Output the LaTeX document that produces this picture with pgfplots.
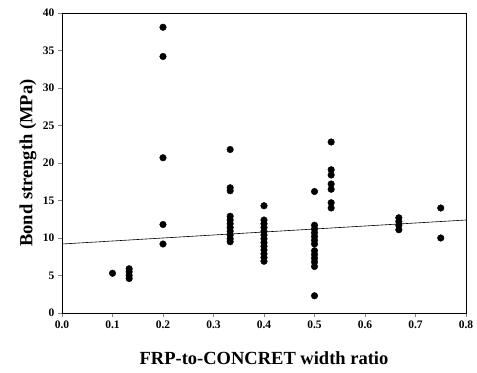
\documentclass[border=0pt]{standalone}
\usepackage{pgfplots}
\pgfplotsset{compat=1.18}
\usepackage{fontspec}
\setmainfont{Liberation Serif}
\begin{document}
\begin{tikzpicture}
\begin{axis}[
  scale only axis,
  width=404pt, height=300pt,
  xmin=0, xmax=0.8, ymin=0, ymax=40,
  xtick={0,0.1,...,0.8},
  ytick={0,5,...,40},
  xticklabel style={/pgf/number format/fixed,/pgf/number format/fixed zerofill,/pgf/number format/precision=1},
  /pgf/number format/assume math mode=true,
  tick label style={font=\bfseries\fontsize{11.5}{12}\selectfont},
  tick align=outside,
  xtick pos=bottom, ytick pos=left,
  major tick length=4pt,
  axis line style={line width=0.8pt},
  xlabel={FRP-to-CONCRET width ratio},
  ylabel={Bond strength (MPa)},
  xlabel style={font=\bfseries\fontsize{18.5}{20}\selectfont, at={(axis description cs:0.5,-0.15)},anchor=center},
  ylabel style={font=\bfseries\fontsize{18.5}{20}\selectfont, at={(axis description cs:-0.084,0.5)},anchor=center},
]
\addplot[only marks, mark=*, mark size=3.3pt, black] coordinates {
(0.1,5.3)
(0.133,5.9)(0.133,5.5)(0.133,5.0)(0.133,4.6)
(0.2,38.1)(0.2,34.2)(0.2,20.7)(0.2,11.8)(0.2,9.2)
(0.333,21.8)(0.333,16.7)(0.333,16.3)(0.333,12.9)(0.333,12.4)(0.333,11.9)(0.333,11.4)(0.333,10.9)(0.333,10.4)(0.333,9.9)(0.333,9.5)
(0.4,14.3)(0.4,12.4)(0.4,11.9)(0.4,11.4)(0.4,10.9)(0.4,10.4)(0.4,9.9)(0.4,9.4)(0.4,8.9)(0.4,8.4)(0.4,7.9)(0.4,7.4)(0.4,6.9)
(0.5,16.2)(0.5,11.7)(0.5,11.2)(0.5,10.7)(0.5,10.2)(0.5,9.7)(0.5,9.2)(0.5,8.3)(0.5,7.8)(0.5,7.3)(0.5,6.8)(0.5,6.2)(0.5,2.3)
(0.533,22.8)(0.533,19.1)(0.533,18.4)(0.533,17.2)(0.533,16.5)(0.533,14.7)(0.533,14.0)
(0.667,12.7)(0.667,12.2)(0.667,11.7)(0.667,11.1)
(0.75,14.0)(0.75,10.0)
};
\addplot[black, line width=0.6pt] coordinates {(0,9.2)(0.8,12.4)};
\end{axis}
\path ([shift={(-62pt,-59pt)}]current axis.south west) rectangle ([shift={(11pt,13pt)}]current axis.north east);
\end{tikzpicture}
\end{document}
